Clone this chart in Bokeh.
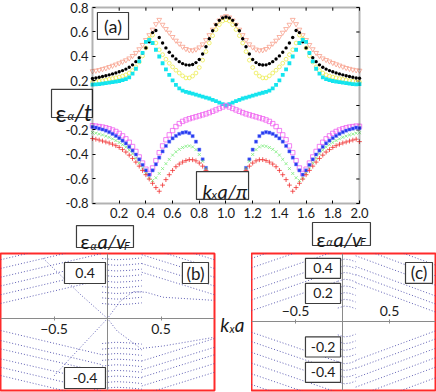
from bokeh.plotting import figure
from bokeh.layouts import column, row
from bokeh.models import (LinearAxis, FixedTicker, CustomJSTickFormatter,
                          BoxAnnotation, Label, Range1d)
from bokeh.embed import file_html
from bokeh.resources import INLINE

FONT = "Lato"

# ---------------- panel (a): eps_alpha / t versus k_x a / pi ----------------
KX = [i / 40 for i in range(81)]   # sampling grid 0 ... 2

SALMON = [0.280, 0.285, 0.290, 0.298, 0.305, 0.315, 0.325, 0.335, 0.345, 0.358,
          0.370, 0.385, 0.405, 0.430, 0.460, 0.495, 0.535, 0.575, 0.620, 0.665,
          0.700, 0.660, 0.625, 0.595, 0.560, 0.530, 0.505, 0.480, 0.462, 0.452,
          0.450, 0.458, 0.475, 0.500, 0.535, 0.575, 0.620, 0.660, 0.695, 0.720,
          0.730,
          0.720, 0.695, 0.660, 0.620, 0.575, 0.535, 0.500, 0.475, 0.458, 0.450,
          0.452, 0.462, 0.480, 0.505, 0.530, 0.560, 0.595, 0.625, 0.660, 0.700,
          0.665, 0.620, 0.575, 0.535, 0.495, 0.460, 0.430, 0.405, 0.385, 0.372,
          0.360, 0.348, 0.337, 0.327, 0.317, 0.307, 0.300, 0.293, 0.288, 0.285]

BLACK = [0.220, 0.225, 0.230, 0.237, 0.243, 0.250, 0.258, 0.266, 0.275, 0.285,
         0.297, 0.312, 0.332, 0.358, 0.390, 0.428, 0.470, 0.520, 0.595, 0.612,
         0.555, 0.510, 0.470, 0.435, 0.405, 0.380, 0.358, 0.342, 0.332, 0.330,
         0.335, 0.350, 0.375, 0.420, 0.480, 0.545, 0.610, 0.660, 0.695, 0.715,
         0.722,
         0.715, 0.695, 0.660, 0.610, 0.545, 0.480, 0.420, 0.375, 0.350, 0.335,
         0.330, 0.332, 0.342, 0.358, 0.380, 0.405, 0.435, 0.470, 0.510, 0.555,
         0.612, 0.595, 0.520, 0.470, 0.428, 0.390, 0.358, 0.332, 0.312, 0.297,
         0.285, 0.275, 0.266, 0.258, 0.250, 0.243, 0.237, 0.230, 0.225, 0.222]

YELLOW = [0.190, 0.194, 0.198, 0.203, 0.208, 0.214, 0.220, 0.226, 0.232, 0.240,
          0.250, 0.265, 0.285, 0.315, 0.355, 0.405, 0.470, 0.545, 0.575, 0.510,
          0.455, 0.415, 0.378, 0.345, 0.315, 0.288, 0.265, 0.242, 0.225, 0.225,
          0.240, 0.265, 0.310, 0.370, 0.440, 0.510, 0.570, 0.620, 0.660, 0.690,
          0.700,
          0.690, 0.660, 0.620, 0.570, 0.510, 0.440, 0.370, 0.310, 0.265, 0.240,
          0.225, 0.225, 0.242, 0.265, 0.288, 0.315, 0.345, 0.378, 0.415, 0.455,
          0.510, 0.575, 0.545, 0.470, 0.405, 0.355, 0.315, 0.285, 0.265, 0.250,
          0.240, 0.232, 0.226, 0.220, 0.214, 0.208, 0.203, 0.198, 0.194, 0.192]

CYAN = [0.170, 0.172, 0.175, 0.178, 0.182, 0.186, 0.190, 0.195, 0.200, 0.207,
        0.215, 0.230, 0.260, 0.300, 0.360, 0.430, 0.520, 0.535, 0.510, 0.455,
        0.400, 0.345, 0.295, 0.250, 0.205, 0.168, 0.140, 0.122, 0.112, 0.104,
        0.097, 0.089, 0.081, 0.073, 0.065, 0.057, 0.046, 0.035, 0.024, 0.012,
        0.000,
        0.012, 0.024, 0.035, 0.046, 0.057, 0.065, 0.073, 0.081, 0.089, 0.097,
        0.104, 0.112, 0.122, 0.140, 0.168, 0.205, 0.250, 0.295, 0.345, 0.400,
        0.455, 0.510, 0.535, 0.520, 0.430, 0.360, 0.300, 0.260, 0.230, 0.215,
        0.207, 0.200, 0.195, 0.190, 0.186, 0.182, 0.178, 0.175, 0.172, 0.175]

MAGENTA = [-0.165, -0.168, -0.172, -0.176, -0.182, -0.190, -0.200, -0.212, -0.228, -0.248,
           -0.272, -0.300, -0.335, -0.375, -0.420, -0.470, -0.520, -0.555, -0.510, -0.450,
           -0.385, -0.330, -0.280, -0.240, -0.205, -0.172, -0.148, -0.130, -0.118, -0.108,
           -0.100, -0.092, -0.084, -0.076, -0.068, -0.058, -0.047, -0.036, -0.024, -0.012,
           0.000,
           -0.012, -0.024, -0.036, -0.047, -0.058, -0.068, -0.076, -0.084, -0.092, -0.100,
           -0.108, -0.118, -0.130, -0.148, -0.172, -0.205, -0.240, -0.280, -0.330, -0.385,
           -0.450, -0.510, -0.555, -0.520, -0.470, -0.420, -0.375, -0.335, -0.300, -0.272,
           -0.248, -0.228, -0.212, -0.200, -0.190, -0.182, -0.176, -0.172, -0.168, -0.170]

BLUE = [-0.175, -0.180, -0.188, -0.196, -0.205, -0.218, -0.232, -0.248, -0.266, -0.287,
        -0.310, -0.337, -0.368, -0.400, -0.440, -0.485, -0.530, -0.565, -0.530, -0.480,
        -0.425, -0.375, -0.330, -0.295, -0.268, -0.248, -0.232, -0.222, -0.218, -0.225,
        -0.250, -0.295, -0.360, -0.440, -0.510, -0.580, -0.640, -0.685, -0.712, -0.725,
        -0.730,
        -0.725, -0.712, -0.685, -0.640, -0.580, -0.510, -0.440, -0.360, -0.295, -0.250,
        -0.225, -0.218, -0.222, -0.232, -0.248, -0.268, -0.295, -0.330, -0.375, -0.425,
        -0.480, -0.530, -0.565, -0.530, -0.485, -0.440, -0.400, -0.368, -0.337, -0.310,
        -0.287, -0.266, -0.248, -0.232, -0.218, -0.205, -0.196, -0.188, -0.180, -0.185]

GREEN = [-0.220, -0.226, -0.233, -0.240, -0.250, -0.260, -0.272, -0.286, -0.302, -0.320,
         -0.340, -0.365, -0.395, -0.430, -0.468, -0.510, -0.555, -0.595, -0.612, -0.590,
         -0.555, -0.515, -0.475, -0.440, -0.405, -0.378, -0.358, -0.343, -0.333, -0.330,
         -0.338, -0.360, -0.400, -0.455, -0.515, -0.575, -0.630, -0.672, -0.700, -0.715,
         -0.720,
         -0.715, -0.700, -0.672, -0.630, -0.575, -0.515, -0.455, -0.400, -0.360, -0.338,
         -0.330, -0.333, -0.343, -0.358, -0.378, -0.405, -0.440, -0.475, -0.515, -0.555,
         -0.590, -0.612, -0.595, -0.555, -0.510, -0.468, -0.430, -0.395, -0.365, -0.340,
         -0.320, -0.302, -0.286, -0.272, -0.260, -0.250, -0.240, -0.233, -0.226, -0.222]

RED = [-0.270, -0.275, -0.282, -0.290, -0.298, -0.306, -0.316, -0.328, -0.342, -0.360,
       -0.380, -0.405, -0.432, -0.462, -0.495, -0.530, -0.565, -0.600, -0.635, -0.670,
       -0.700, -0.650, -0.605, -0.565, -0.530, -0.500, -0.478, -0.462, -0.450, -0.442,
       -0.443, -0.452, -0.470, -0.495, -0.530, -0.580, -0.640, -0.690, -0.720, -0.735,
       -0.740,
       -0.735, -0.720, -0.690, -0.640, -0.580, -0.530, -0.495, -0.470, -0.452, -0.443,
       -0.442, -0.450, -0.462, -0.478, -0.500, -0.530, -0.565, -0.605, -0.650, -0.700,
       -0.670, -0.635, -0.600, -0.565, -0.530, -0.495, -0.462, -0.432, -0.405, -0.380,
       -0.360, -0.342, -0.328, -0.316, -0.306, -0.298, -0.290, -0.282, -0.275, -0.295]

A_X_TICKS = [0.2, 0.4, 0.6, 0.8, 1.0, 1.2, 1.4, 1.6, 1.8, 2.0]
A_Y_TICKS = [-0.8, -0.6, -0.4, -0.2, 0.0, 0.2, 0.4, 0.6, 0.8]
A_Y_LABELLED = [-0.8, -0.6, -0.4, -0.2, 0.2, 0.4, 0.6, 0.8]   # "0" sits under the eps/t box
A_X_LIM = [0.0, 2.0]
A_Y_LIM = [-0.8, 0.8]

# ---------------- panels (b) and (c): dotted bands, eps a / v_F versus k_x a ----------------
B_UL_K = [-1.0, -0.05]
B_UL_E = [[0.12, 0.31], [0.19, 0.38], [0.26, 0.45], [0.33, 0.52], [0.40, 0.59], [0.47, 0.66]]
B_UC_K = [-0.05, 0.08, 0.20, 0.32]
B_UC_E = [[0.120, 0.110, 0.115, 0.125], [0.165, 0.155, 0.160, 0.170], [0.210, 0.200, 0.205, 0.215],
          [0.255, 0.245, 0.250, 0.260], [0.300, 0.290, 0.295, 0.305], [0.345, 0.335, 0.340, 0.350],
          [0.390, 0.380, 0.385, 0.395], [0.435, 0.425, 0.430, 0.440], [0.480, 0.470, 0.475, 0.485]]
B_UR_K = [0.32, 1.0]
B_UR_E = [[0.37, 0.19], [0.44, 0.26], [0.51, 0.33], [0.58, 0.40], [0.65, 0.47]]
B_LL_K = [-1.0, -0.05]
B_LL_E = [[-0.096, -0.29], [-0.176, -0.37], [-0.243, -0.43], [-0.323, -0.51], [-0.39, -0.58], [-0.456, -0.65]]
B_LC_K = [-0.05, 0.08, 0.20, 0.32]
B_LC_E = [[-0.200, -0.190, -0.195, -0.205], [-0.245, -0.235, -0.240, -0.250], [-0.290, -0.280, -0.285, -0.295],
          [-0.335, -0.325, -0.330, -0.340], [-0.380, -0.370, -0.375, -0.385], [-0.425, -0.415, -0.420, -0.430],
          [-0.470, -0.460, -0.465, -0.475], [-0.515, -0.505, -0.510, -0.520], [-0.560, -0.550, -0.555, -0.565]]
B_LR_K = [0.32, 1.0]
B_LR_E = [[-0.34, -0.16], [-0.41, -0.23], [-0.47, -0.29], [-0.54, -0.36], [-0.61, -0.43]]
B_DU_K = [-0.6, -0.25, 0.0, 0.12, 0.24, 0.36, 0.52, 1.0]
B_DU_E = [0.48, 0.19, 0.0, 0.14, 0.215, 0.21, 0.17, 0.145]
B_DL_K = [-0.5, -0.35, 0.0, 0.09, 0.31, 0.52, 1.0]
B_DL_E = [-0.46, -0.32, 0.0, -0.10, -0.24, -0.22, -0.15]
B_X_TICKS = [-0.5, 0.5]
B_Y_BOXED = ["0.4", "-0.4"]

C_UL_K = [-0.97, -0.05]
C_UL_E = [[0.08, 0.30], [0.16, 0.38], [0.23, 0.45], [0.31, 0.53], [0.40, 0.62], [0.47, 0.69]]
C_UC_K = [-0.05, 0.02, 0.08, 0.14]
C_UC_E = [[0.10, 0.115, 0.11, 0.095], [0.15, 0.165, 0.16, 0.145], [0.20, 0.215, 0.21, 0.195],
          [0.25, 0.265, 0.26, 0.245], [0.30, 0.315, 0.31, 0.295], [0.35, 0.365, 0.36, 0.345],
          [0.40, 0.415, 0.41, 0.395], [0.45, 0.465, 0.46, 0.445]]
C_UR_K = [0.14, 0.99]
C_UR_E = [[0.29, 0.07], [0.35, 0.13], [0.41, 0.19], [0.49, 0.27], [0.56, 0.34], [0.64, 0.42]]
C_LL_K = [-0.97, -0.05]
C_LL_E = [[-0.08, -0.30], [-0.15, -0.37], [-0.23, -0.45], [-0.31, -0.53], [-0.39, -0.61], [-0.47, -0.69]]
C_LC_K = [-0.05, 0.02, 0.08, 0.14]
C_LC_E = [[-0.10, -0.115, -0.11, -0.095], [-0.15, -0.165, -0.16, -0.145], [-0.20, -0.215, -0.21, -0.195],
          [-0.25, -0.265, -0.26, -0.245], [-0.30, -0.315, -0.31, -0.295], [-0.35, -0.365, -0.36, -0.345],
          [-0.40, -0.415, -0.41, -0.395], [-0.45, -0.465, -0.46, -0.445]]
C_LR_K = [0.14, 0.99]
C_LR_E = [[-0.29, -0.07], [-0.35, -0.13], [-0.42, -0.20], [-0.49, -0.27], [-0.56, -0.34], [-0.64, -0.42]]
C_X_TICKS = [-0.5, 0.5]
C_Y_BOXED = ["-0.4", "-0.2", "0.2", "0.4"]

DOT = "#4646a8"
BOXLINE = "#3c3c3c"
TXT = "#1a1a1a"


def box(p, l, r, b, t):
    # white label box, drawn as a glyph on top of the data marks
    p.quad(left=[l], right=[r], bottom=[b], top=[t], fill_color="white", fill_alpha=1.0,
           line_color=BOXLINE, line_width=1.2)


def txt(p, x, y, s, size, italic=False, align="left", baseline="alphabetic"):
    p.add_layout(Label(x=x, y=y, text=s, text_font=FONT, text_font_size=f"{size}px",
                       text_font_style="italic" if italic else "normal",
                       text_align=align, text_baseline=baseline, text_color=TXT))


def family(p, ks, rows):
    p.multi_line(xs=[ks] * len(rows), ys=rows, line_color=DOT, line_dash="1 2",
                 line_width=1, line_alpha=0.85)


# ======================= figure (a) (frame covers the whole top area) =======================
pa = figure(width=436, height=252, x_range=Range1d(-0.6891, 2.5768), y_range=Range1d(-1.2, 0.8571),
            toolbar_location=None, output_backend="svg",
            x_axis_location=None, y_axis_location=None, min_border=0,
            outline_line_color=None, background_fill_color="white", border_fill_color="white")
pa.grid.visible = False

fmt = CustomJSTickFormatter(code="return tick.toFixed(1)")
xa = LinearAxis(fixed_location=A_Y_LIM[0], ticker=FixedTicker(ticks=A_X_TICKS), formatter=fmt,
                axis_line_color=None, major_tick_in=3, major_tick_out=0,
                major_tick_line_color="black", minor_tick_line_color=None,
                major_label_text_font=FONT, major_label_text_font_size="13px",
                major_label_text_color=TXT, major_label_standoff=5)
pa.add_layout(xa, "below")
ya = LinearAxis(fixed_location=A_X_LIM[0], ticker=FixedTicker(ticks=A_Y_LABELLED), formatter=fmt,
                axis_line_color=None, major_tick_in=3, major_tick_out=0,
                major_tick_line_color="black", minor_tick_line_color=None,
                major_label_text_font=FONT, major_label_text_font_size="13px",
                major_label_text_color=TXT, major_label_standoff=4)
pa.add_layout(ya, "left")
# mirrored inner ticks on the top and right sides of the frame
pa.segment(x0=A_X_TICKS, y0=[A_Y_LIM[1]] * len(A_X_TICKS), x1=A_X_TICKS,
           y1=[A_Y_LIM[1] - 0.026] * len(A_X_TICKS), line_color="black", line_width=1)
pa.segment(x0=[A_X_LIM[1]] * len(A_Y_TICKS), y0=A_Y_TICKS, x1=[A_X_LIM[1] - 0.024] * len(A_Y_TICKS),
           y1=A_Y_TICKS, line_color="black", line_width=1)

pa.scatter(KX, SALMON, marker="inverted_triangle", size=4.8, fill_color=None,
           line_color="#f7a08c", line_width=0.8)
pa.scatter(KX, YELLOW, marker="circle", size=3.8, fill_color=None,
           line_color="#ecec50", line_width=0.8)
pa.scatter(KX, BLACK, marker="circle", size=3.4, fill_color="black", line_color=None)
pa.scatter(KX, CYAN, marker="square", size=3.8, fill_color="#14e4ee", line_color=None)
pa.scatter(KX, MAGENTA, marker="square", size=4.4, fill_color=None,
           line_color="#f060f0", line_width=0.8)
pa.scatter(KX, BLUE, marker="square", size=3.2, fill_color="#2438ee",
           line_color="#7f8cff", line_width=0.5)
pa.scatter(KX, GREEN, marker="x", size=4.2, line_color="#7cec7c", line_width=0.8)
pa.scatter(KX, RED, marker="cross", size=4.8, line_color="#f03030", line_width=0.8)

# label boxes (glyphs, above the markers)
box(pa, 0.037, 0.270, 0.539, 0.759)                 # (a)
box(pa, -0.307, 0.0, -0.098, 0.131)                 # eps_alpha / t
box(pa, 0.779, 1.169, -0.767, -0.539)               # k_x a / pi
EPS_BOXES = ((-0.120, 0.307, -1.159, -0.980, -0.090, -1.110, -1.139),
             (1.648, 2.082, -1.143, -0.955, 1.678, -1.086, -1.114))
for x0, x1, y0, y1, xe, yb, ys in EPS_BOXES:
    box(pa, x0, x1, y0, y1)

# frame of panel (a)
pa.add_layout(BoxAnnotation(left=A_X_LIM[0], right=A_X_LIM[1], bottom=A_Y_LIM[0], top=A_Y_LIM[1],
                            fill_alpha=0.0, fill_color=None, line_color="black", line_width=2))

txt(pa, 0.154, 0.649, "(a)", 18, align="center", baseline="middle")
txt(pa, -0.277, -0.057, "ε", 24)
txt(pa, -0.187, -0.082, "α", 12, italic=True)
txt(pa, -0.135, -0.057, "/t", 23, italic=True)
txt(pa, 0.824, -0.694, "k", 20, italic=True)
txt(pa, 0.891, -0.727, "x", 12, italic=True)
txt(pa, 0.936, -0.694, "a/π", 20, italic=True)
for x0, x1, y0, y1, xe, yb, ys in EPS_BOXES:
    txt(pa, xe, yb, "ε", 20)
    txt(pa, xe + 0.075, ys, "α", 11, italic=True)
    txt(pa, xe + 0.127, yb, "a/v", 20, italic=True)
    txt(pa, xe + 0.326, ys, "F", 11, italic=True)


# ======================= figures (b), gap, (c) =======================
def band_panel(width, right_border, xr, yr):
    p = figure(width=width, height=140, x_range=Range1d(*xr), y_range=Range1d(*yr),
               toolbar_location=None, output_backend="svg",
               x_axis_location=None, y_axis_location=None,
               min_border_left=0, min_border_right=right_border, min_border_top=1,
               min_border_bottom=2, outline_line_color="#ff2a2a", outline_line_width=2,
               background_fill_color="white", border_fill_color="white")
    p.grid.visible = False
    return p


def center_axes(p, xticks, xside):
    xa_ = LinearAxis(fixed_location=0, ticker=FixedTicker(ticks=xticks),
                     axis_line_color="#8a8a8a", major_tick_line_color="#8a8a8a",
                     major_tick_in=2, major_tick_out=2, minor_tick_line_color=None,
                     major_label_text_font=FONT, major_label_text_font_size="14px",
                     major_label_text_color=TXT, major_label_standoff=3)
    p.add_layout(xa_, xside)
    ya_ = LinearAxis(fixed_location=0, ticker=FixedTicker(ticks=[]),
                     axis_line_color="#8a8a8a", minor_tick_line_color=None)
    p.add_layout(ya_, "left")


pb = band_panel(216, 2, (-1.0, 1.0), (-0.576, 0.52))
center_axes(pb, B_X_TICKS, "below")
for ks, rows in ((B_UL_K, B_UL_E), (B_UC_K, B_UC_E), (B_UR_K, B_UR_E),
                 (B_LL_K, B_LL_E), (B_LC_K, B_LC_E), (B_LR_K, B_LR_E),
                 (B_DU_K, [B_DU_E]), (B_DL_K, [B_DL_E])):
    family(pb, ks, rows)
for s, yc in zip(B_Y_BOXED, (0.364, -0.476)):
    box(pb, -0.402, -0.019, yc - 0.084, yc + 0.084)
    txt(pb, -0.21, yc, s, 14, align="center", baseline="middle")
box(pb, 0.700, 0.944, 0.280, 0.448)
txt(pb, 0.822, 0.364, "(b)", 17, align="center", baseline="middle")

# gap between (b) and (c), carrying the k_x a label
pk = figure(width=35, height=140, x_range=Range1d(0, 1), y_range=Range1d(0, 1),
            toolbar_location=None, output_backend="svg",
            x_axis_location=None, y_axis_location=None, min_border=0,
            outline_line_color=None, background_fill_color="white", border_fill_color="white")
pk.grid.visible = False
txt(pk, 0.11, 0.479, "k", 19, italic=True)
txt(pk, 0.37, 0.452, "x", 11, italic=True)
txt(pk, 0.52, 0.479, "a", 19, italic=True)

pc = band_panel(185, 1, (-0.968, 0.989), (-0.515, 0.507))
center_axes(pc, C_X_TICKS, "above")
for ks, rows in ((C_UL_K, C_UL_E), (C_UC_K, C_UC_E), (C_UR_K, C_UR_E),
                 (C_LL_K, C_LL_E), (C_LC_K, C_LC_E), (C_LR_K, C_LR_E)):
    family(pc, ks, rows)
for s, yc in zip(C_Y_BOXED, (-0.38, -0.19, 0.209, 0.396)):
    box(pc, -0.394, -0.021, yc - 0.075, yc + 0.075)
    txt(pc, -0.207, yc, s, 14, align="center", baseline="middle")
box(pc, 0.670, 0.957, 0.284, 0.440)
txt(pc, 0.814, 0.362, "(c)", 17, align="center", baseline="middle")

layout = column(pa, row(pb, pk, pc, spacing=0), spacing=0)
open("out.html", "w").write(file_html(layout, INLINE, title="bands"))
